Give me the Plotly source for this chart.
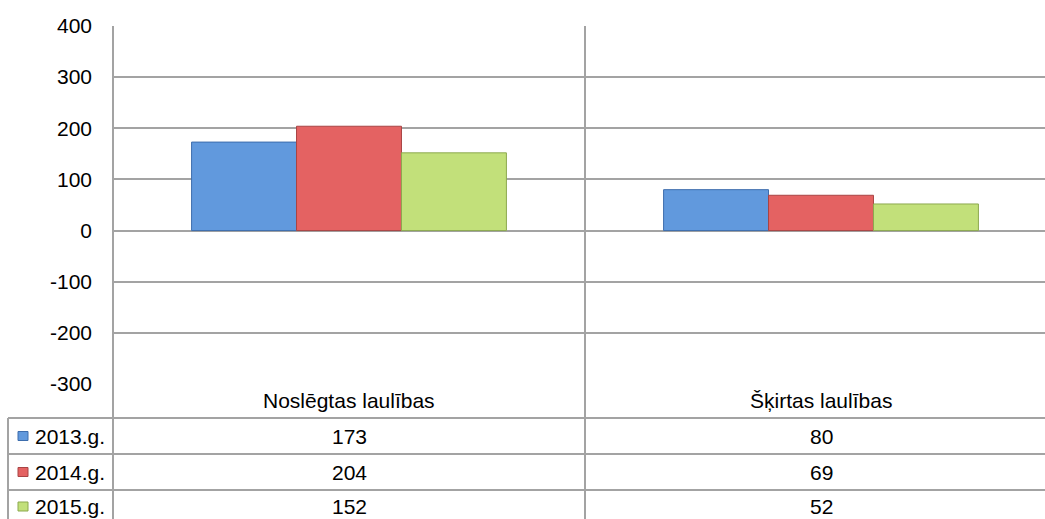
import plotly.graph_objects as go

# ---- data ----
categories = ["Noslēgtas laulības", "Šķirtas laulības"]
series_names = ["2013.g.", "2014.g.", "2015.g."]
values_2013 = [173, 80]
values_2014 = [204, 69]
values_2015 = [152, 52]
y_tick_values = [-300, -200, -100, 0, 100, 200, 300, 400]
y_tick_labels = ["-300", "-200", "-100", "0", "100", "200", "300", "400"]

series_values = [values_2013, values_2014, values_2015]
fill_colors = ["#6199dd", "#e46262", "#c2e07a"]
edge_colors = ["#3d6dad", "#a84444", "#8ca94f"]

# ---- layout geometry (pixels) ----
W, H = 1045, 519
left, top, bottom_px = 113, 26, 384
plot_w = W - left
plot_h = bottom_px - top
cat_px = 472  # width of one category band
x_range = [-0.5, -0.5 + plot_w / cat_px]

FONT = "Liberation Sans, Arial, sans-serif"
FS = 21
TXT = "#000000"
GRID = "#a3a3a3"


def px_x(px):
    return (px - left) / plot_w


def px_y(py):
    return (bottom_px - py) / plot_h


def cat_paper(i):
    return (i - x_range[0]) / (x_range[1] - x_range[0])


fig = go.Figure()
for name, vals, fc, ec in zip(series_names, series_values, fill_colors, edge_colors):
    fig.add_trace(go.Bar(
        x=categories, y=vals, name=name,
        marker=dict(color=fc, line=dict(color=ec, width=1)),
        showlegend=False, hoverinfo="x+y+name",
    ))

shapes = []
line = dict(color=GRID, width=2)
# vertical lines: left axis and category separators
shapes.append(dict(type="line", xref="paper", yref="paper", x0=0, x1=0,
                   y0=1, y1=px_y(H + 5), line=line))
for i in range(len(categories) - 1):
    xp = cat_paper(i + 0.5)
    shapes.append(dict(type="line", xref="paper", yref="paper", x0=xp, x1=xp,
                       y0=1, y1=px_y(H + 5), line=line))
# table horizontal lines
row_lines = [418, 454, 490]
for ry in row_lines:
    shapes.append(dict(type="line", xref="paper", yref="paper", x0=px_x(8), x1=1.01,
                       y0=px_y(ry), y1=px_y(ry), line=line))
# left border of legend column
shapes.append(dict(type="line", xref="paper", yref="paper", x0=px_x(8), x1=px_x(8),
                   y0=px_y(418), y1=px_y(H + 5), line=line))

annotations = []
# header row with category names
for c in categories:
    annotations.append(dict(x=c, xref="x", y=px_y(400.5), yref="paper", text=c,
                            showarrow=False, xanchor="center", yanchor="middle",
                            font=dict(family=FONT, size=FS, color=TXT)))
# data rows
row_centers = [436, 472, 506.5]
for name, vals, fc, ec, ry in zip(series_names, series_values, fill_colors, edge_colors, row_centers):
    shapes.append(dict(type="rect", xref="paper", yref="paper",
                       x0=px_x(18), x1=px_x(28), y0=px_y(ry - 4.5), y1=px_y(ry + 4.5),
                       fillcolor=fc, line=dict(color=ec, width=1)))
    annotations.append(dict(x=px_x(33), xref="paper", y=px_y(ry), yref="paper", text=name,
                            showarrow=False, xanchor="left", yanchor="middle",
                            font=dict(family=FONT, size=FS, color=TXT)))
    for c, v in zip(categories, vals):
        annotations.append(dict(x=c, xref="x", y=px_y(ry), yref="paper", text=str(v),
                                showarrow=False, xanchor="center", yanchor="middle",
                                font=dict(family=FONT, size=FS, color=TXT)))

fig.update_layout(
    width=W, height=H,
    margin=dict(l=left, r=0, t=top, b=H - bottom_px, pad=0, autoexpand=False),
    paper_bgcolor="white", plot_bgcolor="white",
    barmode="group", bargap=0.333, bargroupgap=0,
    shapes=shapes, annotations=annotations,
    font=dict(family=FONT, size=FS, color=TXT),
    xaxis=dict(type="category", range=x_range, showticklabels=False, showgrid=False,
               zeroline=False, showline=False, ticks="", automargin=False),
    yaxis=dict(range=[-300, 400], tickvals=y_tick_values, ticktext=y_tick_labels,
               showgrid=True, gridcolor=GRID, automargin=False,
               gridwidth=2, zeroline=False, showline=False, ticks="",
               ticklabelstandoff=20, tickfont=dict(family=FONT, size=FS, color=TXT)),
)

fig.write_html(
    "out.html",
    config={"displayModeBar": False},
    post_script="document.body.style.margin='0';document.body.style.overflow='hidden';"
                "document.documentElement.style.overflow='hidden';",
)
